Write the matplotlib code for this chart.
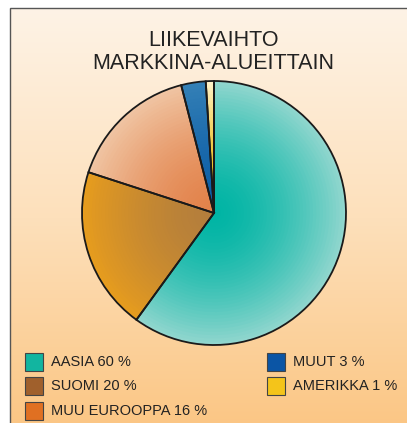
import numpy as np
import matplotlib
matplotlib.use("Agg")
import matplotlib.pyplot as plt
from matplotlib.colors import to_rgb, LinearSegmentedColormap
from matplotlib.patches import Rectangle

# data
labels = ["AASIA", "SUOMI", "MUU EUROOPPA", "MUUT", "AMERIKKA"]
values = [60, 20, 16, 3, 1]
legend_colors = ["#12b5a0", "#a0602c", "#e07022", "#0b55a5", "#f4c41a"]
# radial gradient: colour at centre -> colour at rim
center_colors = ["#00b4a4", "#b47e3c", "#e2824a", "#0d5ea6", "#e8b400"]
edge_colors = ["#90d6ce", "#e69c1e", "#f0c4a2", "#3480b6", "#fff2c8"]

plt.rcParams["font.family"] = ["Liberation Sans", "DejaVu Sans"]

W, H = 407, 423
fig = plt.figure(figsize=(W / 100, H / 100), dpi=100)
ax = fig.add_axes([0, 0, 1, 1])
ax.set_xlim(0, W)
ax.set_ylim(0, H)
ax.axis("off")

# background panel with vertical gradient
bg = LinearSegmentedColormap.from_list("bg", ["#fbc684", "#fde0bb", "#fef3e6"])
grad = np.linspace(0, 1, 256).reshape(-1, 1)
ax.imshow(grad, cmap=bg, origin="lower", aspect="auto",
          extent=(10, W + 5, -5, H - 8), zorder=0)
ax.add_patch(Rectangle((10, -5), W, H - 3, fill=False, ec="#555555", lw=1.0, zorder=1))

# pie with radial shading (rim lightens faster than centre)
cx, cy, R = 214, 210, 132
n = 40
for i in range(n):
    t = 1 - i / n
    r = R * t
    w = t ** 1.6
    cols = [tuple(np.array(to_rgb(c0)) * (1 - w) + np.array(to_rgb(c1)) * w)
            for c0, c1 in zip(center_colors, edge_colors)]
    ax.pie(values, colors=cols, radius=r, center=(cx, cy), startangle=90,
           counterclock=False, wedgeprops=dict(lw=0, antialiased=True), frame=True)
ax.pie(values, colors=["none"] * len(values), radius=R, center=(cx, cy), startangle=90,
       counterclock=False, wedgeprops=dict(lw=1.3, edgecolor="#1a1a1a", fill=False),
       frame=True)
ax.set_xlim(0, W)
ax.set_ylim(0, H)
ax.set_aspect("equal")
ax.axis("off")

# title
ax.text(213, H - 40, "LIIKEVAIHTO", ha="center", va="center",
        fontsize=15.5, color="#222222")
ax.text(213, H - 63, "MARKKINA-ALUEITTAIN", ha="center", va="center",
        fontsize=15.5, color="#222222")

# legend
pos = [(25, 362), (25, 386), (25, 411), (267, 362), (267, 386)]
for (x, y), lab, v, c in zip(pos, labels, values, legend_colors):
    ax.add_patch(Rectangle((x, H - y - 9), 18, 18, fc=c, ec="#444444", lw=0.8, zorder=3))
    ax.text(x + 26, H - y, f"{lab} {v} %", ha="left", va="center",
            fontsize=10.5, color="#222222")

fig.savefig("out.png", dpi=100)
